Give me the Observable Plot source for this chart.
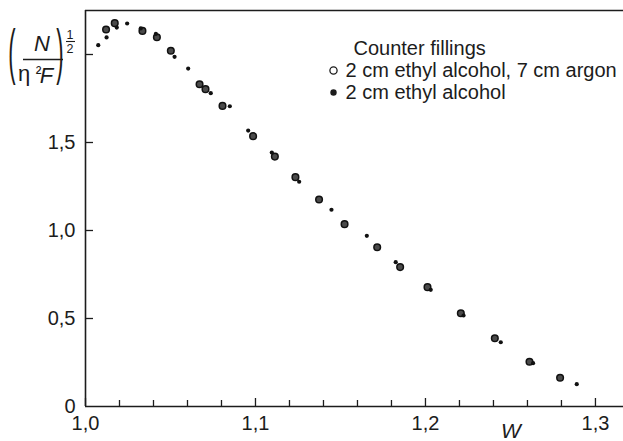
<!DOCTYPE html>
<html>
<head>
<meta charset="utf-8">
<script src="https://cdn.jsdelivr.net/npm/d3@7"></script>
<script src="https://cdn.jsdelivr.net/npm/@observablehq/plot@0.6"></script>
<style>
  body { margin: 0; background: #fff; }
  svg { display: block; }
</style>
</head>
<body>
<div id="chart"></div>
<script>
// Kurie plot: (N / η²F)^½ against total energy W, two counter fillings.

// Counter filled with 2 cm ethyl alcohol + 7 cm argon (open circles)
const argonW = [1.0121, 1.0172, 1.0335, 1.0420, 1.0502, 1.0671, 1.0706, 1.0806, 1.0986, 1.1114,
                1.1235, 1.1374, 1.1524, 1.1716, 1.1851, 1.2012, 1.2208, 1.2408, 1.2612, 1.2792];
const argonK = [2.142, 2.178, 2.134, 2.098, 2.021, 1.831, 1.803, 1.708, 1.536, 1.420,
                1.303, 1.176, 1.036, 0.905, 0.792, 0.678, 0.530, 0.388, 0.254, 0.163];

// Counter filled with 2 cm ethyl alcohol only (filled dots)
const alcoholW = [1.0075, 1.0124, 1.0184, 1.0245, 1.0325, 1.0414, 1.0524, 1.0604, 1.0737, 1.0849,
                  1.0957, 1.1096, 1.1257, 1.1447, 1.1655, 1.1825, 1.2031, 1.2224, 1.2443, 1.2633, 1.2890];
const alcoholK = [2.053, 2.097, 2.153, 2.176, 2.148, 2.117, 1.987, 1.920, 1.780, 1.706,
                  1.568, 1.443, 1.277, 1.118, 0.970, 0.820, 0.663, 0.517, 0.365, 0.246, 0.127];

// Axis ticks and their labels (decimal comma)
const xTickValues = [1.0, 1.1, 1.2, 1.3];
const xTickLabels = ["1,0", "1,1", "1,2", "1,3"];
const xMinorTicks = [1.02, 1.04, 1.06, 1.08, 1.12, 1.14, 1.16, 1.18, 1.22, 1.24, 1.26, 1.28];
const yTickValues = [0, 0.5, 1.0, 1.5];
const yTickLabels = ["0", "0,5", "1,0", "1,5"];
const yMarkTicks = [0.5, 1.0, 1.5, 2.0];

// Legend entries
const legendTitle = "Counter fillings";
const legendLabels = ["2 cm ethyl alcohol, 7 cm argon", "2 cm ethyl alcohol"];

const xDomain = [1.0, 1.3165];
const yDomain = [0, 2.25];

const FONT = "'Liberation Sans', Arial, Helvetica, sans-serif";
const INK = "#1c1c1c";

const argon = argonW.map((w, i) => ({w, k: argonK[i]}));
const alcohol = alcoholW.map((w, i) => ({w, k: alcoholK[i]}));

const chart = Plot.plot({
  width: 623,
  height: 441,
  marginLeft: 85,
  marginRight: 0,
  marginTop: 10,
  marginBottom: 35,
  style: {fontFamily: FONT, fontSize: "20px", color: INK, background: "#fff"},
  x: {domain: xDomain},
  y: {domain: yDomain},
  marks: [
    // frame: left, bottom and top edges
    Plot.ruleX([xDomain[0]], {stroke: INK, strokeWidth: 1.6}),
    Plot.ruleY([yDomain[0], yDomain[1]], {stroke: INK, strokeWidth: 1.6}),
    // inward ticks
    Plot.ruleX(xTickValues, {x: d => d, y1: 0, y2: 0, insetTop: -8, stroke: INK, strokeWidth: 1.3}),
    Plot.ruleX(xMinorTicks, {x: d => d, y1: 0, y2: 0, insetTop: -6, stroke: INK, strokeWidth: 1.3}),
    Plot.ruleY(yMarkTicks, {y: d => d, x1: xDomain[0], x2: xDomain[0], insetRight: -8, stroke: INK, strokeWidth: 1.3}),
    // tick labels
    Plot.axisX(xTickValues, {tickSize: 0, tickPadding: 9, label: null,
      tickFormat: d => xTickLabels[xTickValues.indexOf(d)]}),
    Plot.axisY(yTickValues, {tickSize: 0, tickPadding: 10, label: null,
      tickFormat: d => yTickLabels[yTickValues.indexOf(d)]}),
    // data
    Plot.dot(argon, {x: "w", y: "k", r: 3.3, stroke: "#111", strokeWidth: 1.5, fill: "#4a4a4a"}),
    Plot.dot(alcohol, {x: "w", y: "k", r: 2.1, fill: "#111", stroke: "none"}),
    // legend
    Plot.text([legendTitle], {text: d => d, frameAnchor: "top-left", dx: 268, dy: 44,
      textAnchor: "start", lineAnchor: "bottom", fontSize: 20, fill: INK}),
    Plot.dot([legendLabels[0]], {frameAnchor: "top-left", dx: 248, dy: 60, r: 3.6,
      stroke: INK, strokeWidth: 1.3, fill: "#fff"}),
    Plot.text([legendLabels[0]], {text: d => d, frameAnchor: "top-left", dx: 260, dy: 66,
      textAnchor: "start", lineAnchor: "bottom", fontSize: 20, fill: INK}),
    Plot.dot([legendLabels[1]], {frameAnchor: "top-left", dx: 248, dy: 82, r: 3.2,
      fill: INK, stroke: "none"}),
    Plot.text([legendLabels[1]], {text: d => d, frameAnchor: "top-left", dx: 260, dy: 88,
      textAnchor: "start", lineAnchor: "bottom", fontSize: 20, fill: INK})
  ]
});

document.getElementById("chart").appendChild(chart);

// Axis titles: (N / η²F)^½ on the left, W under the energy axis
const svg = d3.select(chart);
const g = svg.append("g").attr("font-family", FONT).attr("fill", INK);

g.append("text").attr("transform", "translate(12,72.3) scale(1,2.77)")
  .attr("font-size", 22).text("(");
g.append("text").attr("transform", "translate(60,72.3) scale(1,2.77)")
  .attr("font-size", 22).text(")");

g.append("text").attr("x", 42).attr("y", 51).attr("text-anchor", "middle")
  .attr("font-size", 22).attr("font-style", "italic").text("N");
g.append("line").attr("x1", 23).attr("x2", 63).attr("y1", 59.5).attr("y2", 59.5)
  .attr("stroke", INK).attr("stroke-width", 1.4);
g.append("text").attr("x", 24).attr("y", 81).attr("font-size", 22).text("η");
g.append("text").attr("x", 38.5).attr("y", 79).attr("font-size", 17).text("²");
g.append("text").attr("x", 46.5).attr("y", 83).attr("font-size", 22)
  .attr("font-style", "italic").text("F");

g.append("text").attr("x", 70).attr("y", 39).attr("text-anchor", "middle")
  .attr("font-size", 12.5).text("1");
g.append("line").attr("x1", 66).attr("x2", 75).attr("y1", 41.5).attr("y2", 41.5)
  .attr("stroke", INK).attr("stroke-width", 1.1);
g.append("text").attr("x", 70).attr("y", 53).attr("text-anchor", "middle")
  .attr("font-size", 12.5).text("2");

g.append("text").attr("x", 511).attr("y", 438).attr("text-anchor", "middle")
  .attr("font-size", 21).attr("font-style", "italic").text("W");
</script>
</body>
</html>
